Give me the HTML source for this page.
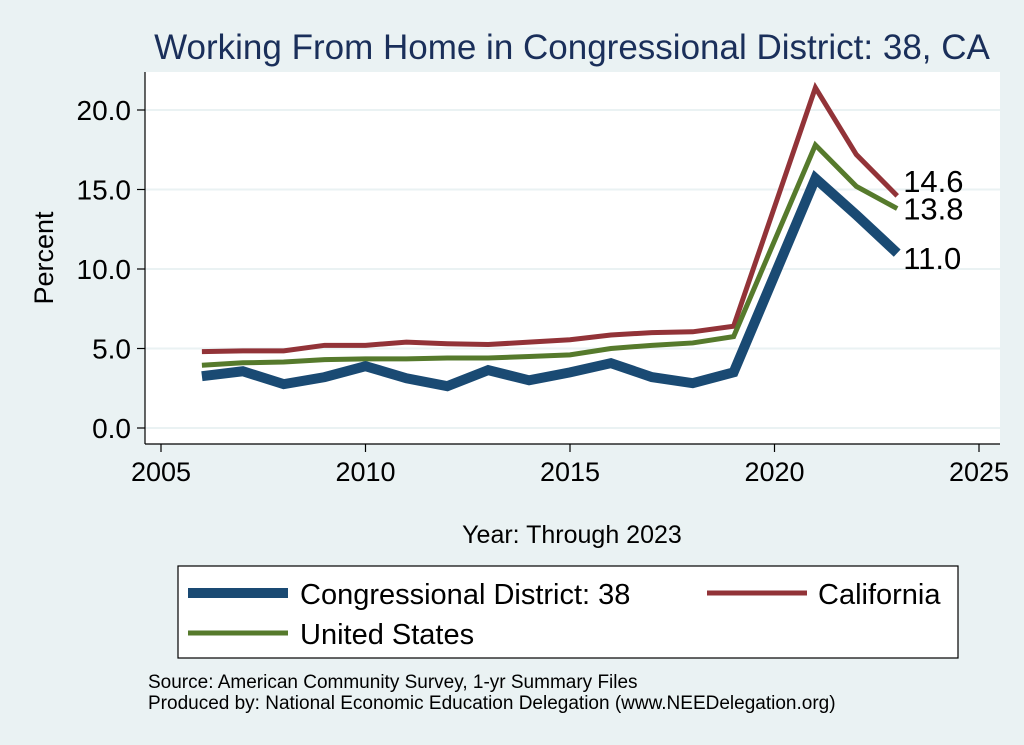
<!DOCTYPE html>
<html><head><meta charset="utf-8"><style>
body{margin:0;background:#eaf2f3;}
svg{display:block;font-family:"Liberation Sans",Arial,sans-serif;}
</style></head><body>
<svg width="1024" height="745">
<rect x="0" y="0" width="1024" height="745" fill="#eaf2f3"/>
<text x="572" y="59" font-size="35" fill="#1a2f5a" text-anchor="middle">Working From Home in Congressional District: 38, CA</text>
<rect x="145" y="72" width="855" height="372" fill="#fff"/>
<g id="grid"></g><g id="axes"></g><g id="series"></g>
<text x="53" y="258" font-size="27" text-anchor="middle" transform="rotate(-90 53 258)">Percent</text>
<text x="572" y="543" font-size="25" text-anchor="middle">Year: Through 2023</text>
<g>
<rect x="178" y="566" width="780" height="92" fill="#fff" stroke="#000" stroke-width="1.2"/>
<line x1="188" y1="593" x2="288" y2="593" stroke="#1a4a73" stroke-width="10"/>
<text x="300" y="604" font-size="29">Congressional District: 38</text>
<line x1="707" y1="593" x2="807" y2="593" stroke="#923338" stroke-width="5"/>
<text x="818" y="604" font-size="29">California</text>
<line x1="188" y1="633" x2="288" y2="633" stroke="#567a2c" stroke-width="5"/>
<text x="300" y="644" font-size="29">United States</text>
</g>
<text x="148" y="688" font-size="19">Source: American Community Survey, 1-yr Summary Files</text>
<text x="148" y="709" font-size="19">Produced by: National Economic Education Delegation (www.NEEDelegation.org)</text>
</svg>
<script>
const years=[2006,2007,2008,2009,2010,2011,2012,2013,2014,2015,2016,2017,2018,2019,2021,2022,2023];
const cd38=[3.26,3.57,2.76,3.2,3.89,3.13,2.63,3.64,3.0,3.5,4.08,3.2,2.82,3.5,15.7,13.4,11.0];
const california=[4.8,4.85,4.85,5.2,5.2,5.4,5.3,5.25,5.4,5.55,5.85,6.0,6.05,6.4,21.4,17.2,14.6];
const unitedStates=[3.95,4.1,4.15,4.3,4.35,4.35,4.4,4.4,4.5,4.6,5.0,5.2,5.35,5.75,17.8,15.2,13.8];
const yTicks=[0,5,10,15,20];
const xTicks=[2005,2010,2015,2020,2025];
const NS="http://www.w3.org/2000/svg";
const xs=v=>161+(v-2005)*40.9;
const ys=v=>428-v*15.9;
function mk(tag,attrs,parent){const e=document.createElementNS(NS,tag);for(const k in attrs)e.setAttribute(k,attrs[k]);parent.appendChild(e);return e;}
const grid=document.getElementById('grid'),axes=document.getElementById('axes'),ser=document.getElementById('series');
yTicks.forEach(t=>{
 const g=mk('line',{x1:145,x2:1000,y1:ys(t),y2:ys(t),stroke:'#eaf2f3','stroke-width':2},grid);
 
 const tk=mk('line',{x1:137,x2:145,y1:ys(t),y2:ys(t),stroke:'#000','stroke-width':1.2},axes);
 
 const tx=mk('text',{x:131,y:ys(t)+10,'font-size':28,'text-anchor':'end'},axes);tx.textContent=t.toFixed(1);
 
});
xTicks.forEach(t=>{
 const tk=mk('line',{x1:xs(t),x2:xs(t),y1:444,y2:452,stroke:'#000','stroke-width':1.2},axes);
 
 const tx=mk('text',{x:xs(t),y:481,'font-size':27,'text-anchor':'middle'},axes);tx.textContent=t;
 
});
const ya=mk('line',{x1:145,x2:145,y1:72,y2:444,stroke:'#000','stroke-width':1.2},axes);

const xa=mk('line',{x1:145,x2:1000,y1:444,y2:444,stroke:'#000','stroke-width':1.2},axes);

function line(vals,color,w,name){
 const p=mk('polyline',{points:vals.map((v,i)=>xs(years[i])+','+ys(v)).join(' '),fill:'none',stroke:color,'stroke-width':w,'stroke-linejoin':'miter'},ser);
 
}
line(california,'#923338',5,'line-california');
line(unitedStates,'#567a2c',5,'line-united-states');
line(cd38,'#1a4a73',10,'line-cd38');
const last=years.length-1,lx=xs(years[last])+6;
[[california,-15,'label-california'],[unitedStates,0,'label-united-states'],[cd38,5,'label-cd38']].forEach(([a,dy,n])=>{
 const t=mk('text',{x:lx,y:ys(a[last])+dy+11,'font-size':31},ser);t.textContent=a[last].toFixed(1);
 
});
</script>
</body></html>
